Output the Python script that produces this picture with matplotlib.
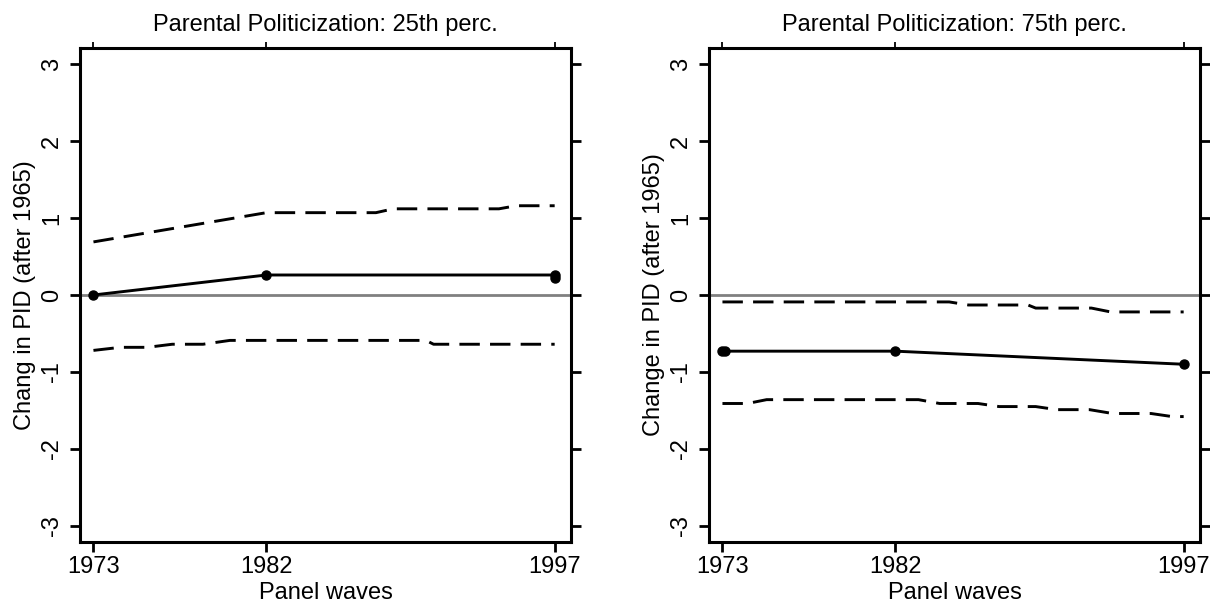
import matplotlib.pyplot as plt

plt.rcParams['font.family'] = ['Liberation Sans', 'DejaVu Sans']

waves = [1973, 1982, 1997]
y_ticks = [-3, -2, -1, 0, 1, 2, 3]

# Parental politicization at 25th percentile
est25_x = [1973, 1982, 1997, 1997]
est25_y = [0.0, 0.26, 0.26, 0.22]
up25_x = [1973, 1982, 1987.7, 1988.6, 1994.1, 1995.0, 1997]
up25_y = [0.69, 1.07, 1.07, 1.12, 1.12, 1.16, 1.16]
lo25_x = [1973, 1974.4, 1975.8, 1977.1, 1978.7, 1980.1, 1990.3, 1990.7, 1997]
lo25_y = [-0.72, -0.68, -0.68, -0.64, -0.64, -0.59, -0.59, -0.64, -0.64]

# Parental politicization at 75th percentile
est75_x = [1973, 1973.12, 1982, 1997]
est75_y = [-0.73, -0.73, -0.73, -0.90]
up75_x = [1973, 1984.8, 1985.8, 1988.9, 1989.3, 1992.2, 1993.2, 1997]
up75_y = [-0.09, -0.09, -0.13, -0.13, -0.17, -0.17, -0.22, -0.22]
lo75_x = [1973, 1974.3, 1975.3, 1983.2, 1984.3, 1986.3, 1987.4, 1989.3,
          1990.4, 1992.1, 1993.3, 1995.3, 1996.4, 1997]
lo75_y = [-1.41, -1.41, -1.36, -1.36, -1.41, -1.41, -1.45, -1.45,
          -1.49, -1.49, -1.54, -1.54, -1.58, -1.58]

panels = [
    ("Parental Politicization: 25th perc.", "Chang in PID (after 1965)",
     est25_x, est25_y, up25_x, up25_y, lo25_x, lo25_y),
    ("Parental Politicization: 75th perc.", "Change in PID (after 1965)",
     est75_x, est75_y, up75_x, up75_y, lo75_x, lo75_y),
]

fig = plt.figure(figsize=(12.1, 6.04), dpi=100)
lefts = [80 / 1210, 709 / 1210]

for left, (title, ylabel, ex, ey, ux, uy, lx, ly) in zip(lefts, panels):
    ax = fig.add_axes([left, 1 - 542 / 604, 491 / 1210, 494 / 604])
    ax.axhline(0, color='#808080', lw=2, zorder=1)
    ax.plot(ux, uy, color='black', lw=2.1, dashes=(7, 3.5), zorder=2)
    ax.plot(lx, ly, color='black', lw=2.1, dashes=(7, 3.5), zorder=2)
    ax.plot(ex, ey, color='black', lw=2.1, marker='o', ms=6.5, zorder=3)

    ax.set_xlim(1972.3, 1997.85)
    ax.set_ylim(-3.21, 3.21)
    ax.set_xticks(waves)
    ax.set_yticks(y_ticks)
    ax.set_yticklabels([str(t) for t in y_ticks], rotation=90, va='center')
    ax.tick_params(axis='both', direction='out', length=7, width=2,
                   labelsize=17, color='black')
    ax.tick_params(axis='y', right=True, pad=5)
    ax.tick_params(axis='x', pad=3)

    top = ax.secondary_xaxis('top')
    top.set_xticks(waves)
    top.set_xticklabels([])
    top.tick_params(direction='out', length=4, width=1.3)
    top.spines['top'].set_visible(False)

    for s in ax.spines.values():
        s.set_linewidth(2.2)

    ax.set_title(title, fontsize=17, pad=12)
    ax.set_xlabel('Panel waves', fontsize=17, labelpad=3)
    ax.set_ylabel(ylabel, fontsize=17, labelpad=4)

plt.savefig('out.png', dpi=100)
